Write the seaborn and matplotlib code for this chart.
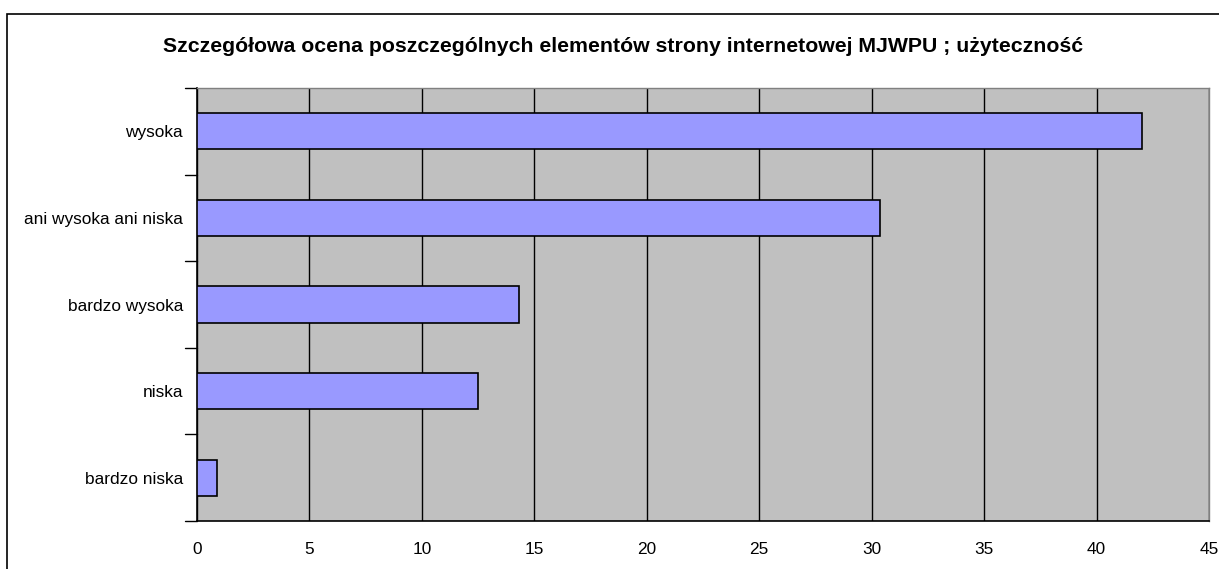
import matplotlib
matplotlib.use("Agg")
import matplotlib.pyplot as plt
import seaborn as sns
import pandas as pd
from matplotlib.patches import Rectangle

categories = ["wysoka", "ani wysoka ani niska", "bardzo wysoka", "niska", "bardzo niska"]
values = [42.0, 30.35, 14.3, 12.5, 0.9]

df = pd.DataFrame({"ocena": categories, "procent": values})

sns.set_style("white")
plt.rcParams['font.family'] = ['Liberation Sans', 'DejaVu Sans']
plt.rcParams['text.color'] = 'black'

fig = plt.figure(figsize=(12.19, 5.69), dpi=100)
ax = fig.add_axes([197/1219, 1 - 521/569, (1209-197)/1219, (521-88)/569])

sns.barplot(data=df, x="procent", y="ocena", order=categories, orient="h",
            color="#9999FF", saturation=1, width=0.42,
            edgecolor="black", linewidth=1.2, ax=ax, zorder=3)

ax.set_facecolor("#C0C0C0")
ax.set_xlim(0, 45)
ax.set_ylim(4.5, -0.5)
ax.set_xticks(range(0, 46, 5))
ax.grid(axis="x", color="black", linewidth=1, zorder=0)
ax.set_axisbelow(True)
ax.set_xlabel("")
ax.set_ylabel("")

# category labels centered, ticks at boundaries
ax.set_yticks(range(len(categories)))
ax.set_yticklabels(categories, fontsize=12.4)
ax.tick_params(axis="y", length=0, pad=10, labelcolor="black")
for b in [i - 0.5 for i in range(len(categories) + 1)]:
    ax.plot([-0.012, 0], [b, b], transform=ax.get_yaxis_transform(),
            color="black", linewidth=1, clip_on=False)
ax.tick_params(axis="x", length=5, width=1, color="black", labelsize=12.4,
               pad=10, labelcolor="black")

for s in ["top", "right"]:
    ax.spines[s].set_color("#808080")
    ax.spines[s].set_linewidth(1)
for s in ["left", "bottom"]:
    ax.spines[s].set_color("black")
    ax.spines[s].set_linewidth(1.2)

fig.text(0.5 * (163 + 1083) / 1219, 1 - 46/569,
         "Szczegółowa ocena poszczególnych elementów strony internetowej MJWPU ; użyteczność",
         ha="center", va="center", fontsize=15.3, fontweight="bold", color="black")

fig.patches.append(Rectangle((7/1219, -0.1), 1.2, 1 - 14/569 + 0.1,
                             transform=fig.transFigure, fill=False,
                             edgecolor="black", linewidth=1.2))

fig.savefig("out.png", dpi=100)
